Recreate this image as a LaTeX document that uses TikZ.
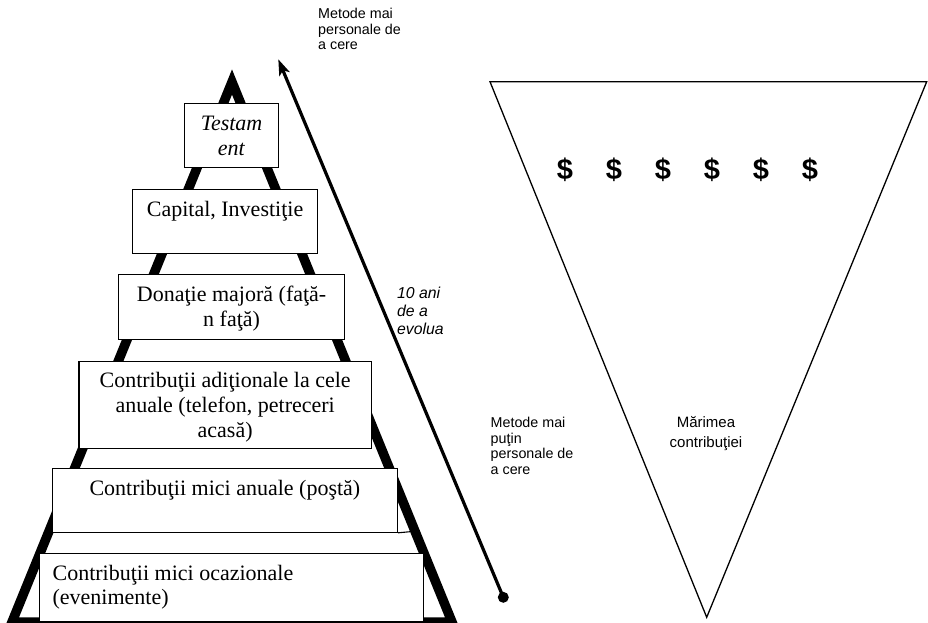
\documentclass[tikz,border=0pt]{standalone}
\usepackage{fontspec}
\setmainfont{Liberation Serif}
\newfontfamily\arialf{Liberation Sans}
\usetikzlibrary{arrows.meta}
\begin{document}
\begin{tikzpicture}[x=1pt,y=-1pt,
  pyr/.style={draw=black, line width=9.5pt, line join=miter},
  box/.style={draw=black, line width=1.1pt, fill=white, inner sep=0pt, anchor=north west},
  thinline/.style={draw=black, line width=1.1pt},
  boxtxt/.style={inner sep=0pt, align=center, anchor=north, font=\fontsize{22}{25}\selectfont},
  sanslbl/.style={inner sep=0pt, align=left, anchor=north west, font=\arialf\fontsize{14.3}{15.5}\selectfont},
  evlbl/.style={inner sep=0pt, align=left, anchor=north west, font=\arialf\itshape\fontsize{15.8}{18}\selectfont},
  sizelbl/.style={inner sep=0pt, align=center, anchor=north, font=\arialf\fontsize{15}{20}\selectfont},
  dollar/.style={inner sep=0pt, font=\arialf\bfseries\fontsize{29}{32}\selectfont},
  funnel/.style={draw=black, line width=1.3pt, line join=miter},
  evarrow/.style={draw=black, line width=3.2pt, -{Stealth[length=16pt,width=11pt,inset=4pt]}},
  dotnode/.style={circle, fill=black, inner sep=0pt, minimum size=11pt}
]
\useasboundingbox (0,0) rectangle (928,622);

% pyramid outline
\coordinate (apex) at (232,82);
\coordinate (bl) at (12,622);
\coordinate (br) at (452,622);
\draw[pyr] (apex) -- (br) -- (bl) -- cycle;

% boxes
\node[box, minimum width=93.4pt, minimum height=64.6pt] (b1) at (184.3,102.7) {};
\node[box, minimum width=185.6pt, minimum height=64.3pt] (b2) at (131.7,189) {};
\node[box, minimum width=226.1pt, minimum height=64.2pt] (b3) at (118,274.3) {};
\node[box, minimum width=292.4pt, minimum height=87.6pt] (b4) at (78.4,360.7) {};
\node[box, minimum width=345.3pt, minimum height=63.4pt] (b5) at (51.7,468.3) {};
\node[box, minimum width=383.7pt, minimum height=68pt] (b6) at (38.9,553.3) {};
\coordinate (b5x) at (410,531.7);
\draw[thinline] (b5.south east) -- (b5x);

% box texts
\node[boxtxt] (t1) at ([yshift=-10.5pt]b1.north) {\rule{0pt}{17pt}\textit{Testam}\\\textit{ent}};
\node[boxtxt] (t2) at ([yshift=-10.5pt]b2.north) {\rule{0pt}{17pt}Capital, Investiţie};
\node[boxtxt] (t3) at ([yshift=-10pt]b3.north) {\rule{0pt}{17pt}Donaţie majoră (faţă-\\n faţă)};
\node[boxtxt] (t4) at ([yshift=-9.5pt]b4.north) {\rule{0pt}{17pt}Contribuţii adiţionale la cele\\anuale (telefon, petreceri\\acasă)};
\node[boxtxt] (t5) at ([yshift=-9.5pt]b5.north) {\rule{0pt}{17pt}Contribuţii mici anuale (poştă)};
\node[boxtxt, align=left, anchor=north west, font=\fontsize{22}{24}\selectfont] (t6) at ([xshift=13.5pt,yshift=-9.7pt]b6.north west) {\rule{0pt}{17pt}Contribuţii mici ocazionale\\(evenimente)};

% arrow
\node[dotnode] (dot) at (503.3,597.3) {};
\coordinate (tip) at (278.3,59.3);
\draw[evarrow] (dot.center) -- (tip);

% labels
\node[sanslbl] (top) at (318,8) {\rule{0pt}{10pt}Metode mai\\personale de\\a cere};
\node[evlbl] (ev) at (397,287) {\rule{0pt}{11pt}10 ani\\de a\\evolua};
\node[sanslbl] (low) at (490.5,417) {\rule{0pt}{10pt}Metode mai\\puţin\\personale de\\a cere};

% funnel
\coordinate (f1) at (490,81.7);
\coordinate (f2) at (926.7,81.7);
\coordinate (f3) at (706.7,617.3);
\draw[funnel] (f1) -- (f2) -- (f3) -- cycle;
\foreach \i in {0,...,5} {
  \node[dollar] (d\i) at (565+49*\i,170) {\$};
}
\node[sizelbl] (size) at (706,416) {\rule{0pt}{11pt}Mărimea\\contribuţiei};
\end{tikzpicture}
\end{document}
